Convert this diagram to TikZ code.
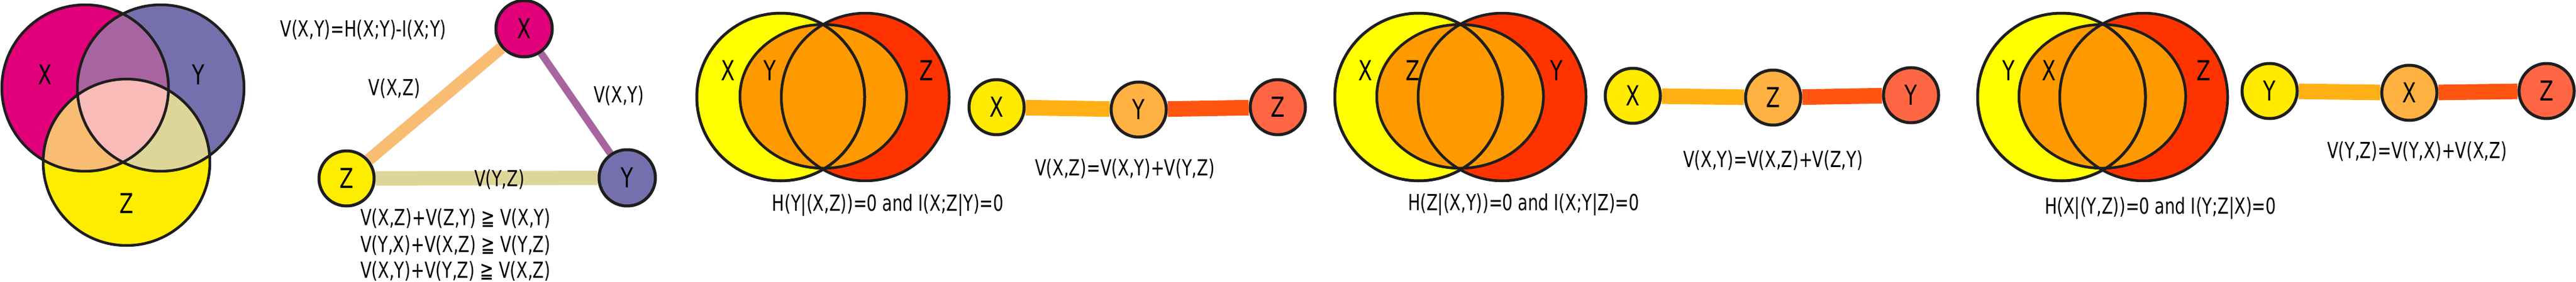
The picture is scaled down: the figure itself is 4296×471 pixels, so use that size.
\documentclass[tikz,border=0pt]{standalone}
\usepackage{fontspec}
\setmainfont[FakeStretch=0.82]{DejaVu Sans Condensed}
\usetikzlibrary{backgrounds}
\definecolor{cX}{HTML}{E2007A}\definecolor{cY}{HTML}{7570AD}\definecolor{cZ}{HTML}{FFED00}
\definecolor{cXY}{HTML}{A864A0}\definecolor{cXZ}{HTML}{F9BC73}\definecolor{cYZ}{HTML}{DED699}
\definecolor{cXYZ}{HTML}{F9BBB7}\definecolor{ln}{HTML}{1E1E1E}
\definecolor{vy}{HTML}{FFFF00}\definecolor{vr}{HTML}{FF3300}\definecolor{vo}{HTML}{FF9900}
\definecolor{ny}{HTML}{FFEA00}\definecolor{no}{HTML}{FFB142}\definecolor{nr}{HTML}{FF6644}
\definecolor{eo}{HTML}{FFB014}\definecolor{er}{HTML}{FF5511}
\tikzset{
 vnode/.style={circle,draw=ln,line width=5pt,minimum size=92pt,inner sep=0pt,font=\fontsize{46}{46}\selectfont},
 vlab/.style={inner sep=0pt,font=\fontsize{46}{46}\selectfont},
 txt/.style={inner sep=0pt,font=\fontsize{37}{44}\selectfont},
 outl/.style={draw=ln,line width=4.5pt}
}
\newcommand{\chainpanel}[9]{%
 % #1 left cx, #2 inner cx, #3 right cx, #4 label left, #5 label inner, #6 label right, #7 lx1,#8 lx2,#9 lx3
 \fill[vy] (#1,-162) circle (140);
 \fill[vr] (#3,-162) circle (140);
 \fill[vo] (#2,-161) ellipse (139 and 120);
 \begin{scope}\clip (#1,-162) circle (140); \fill[vo] (#3,-162) circle (140);\end{scope}
 \draw[outl] (#1,-162) circle (140);
 \draw[outl] (#3,-162) circle (140);
 \draw[outl] (#2,-161) ellipse (139 and 120);
 \draw[outl] (#1,-162) circle (140);
 \node[vlab] at (#7,-118) {#4};
 \node[vlab] at (#8,-118) {#5};
 \node[vlab] at (#9,-118) {#6};
}
\begin{document}
\begin{tikzpicture}[x=1pt,y=1pt]
\useasboundingbox (0,0) rectangle (4296,-471);
% ---- panel 1 Venn
\fill[cX] (142,-147) circle (139);
\fill[cY] (268,-147) circle (139);
\fill[cZ] (211,-271) circle (139);
\begin{scope}\clip (142,-147) circle (139); \fill[cXY] (268,-147) circle (139); \fill[cXZ] (211,-271) circle (139);\end{scope}
\begin{scope}\clip (268,-147) circle (139); \fill[cYZ] (211,-271) circle (139);\end{scope}
\begin{scope}\clip (142,-147) circle (139); \clip (268,-147) circle (139); \fill[cXYZ] (211,-271) circle (139);\end{scope}
\draw[outl] (142,-147) circle (139) (268,-147) circle (139) (211,-271) circle (139);
\node[vlab] (lX) at (75,-125) {X};
\node[vlab] (lY) at (331,-125) {Y};
\node[vlab] (lZ) at (211,-340) {Z};
% ---- triangle
\node[txt] (def) at (606,-50) {V(X,Y)=H(X;Y)-I(X;Y)};
\node[vnode,fill=cX,minimum size=94pt] (tX) at (874,-48) {X};
\node[vnode,fill=cZ] (tZ) at (578,-298) {Z};
\node[vnode,fill=cY,minimum size=94pt] (tY) at (1046,-297) {Y};
\begin{scope}[on background layer]
\draw[cXZ,line width=20pt] (tX) -- (tZ);
\draw[cXY,line width=12pt] (tX) -- (tY);
\draw[cYZ,line width=24pt] (tZ) -- (tY);
\end{scope}
\node[txt] (lXZ) at (658,-148) {V(X,Z)};
\node[txt] (lXY) at (1032,-160) {V(X,Y)};
\node[txt] (lYZ) at (833,-300) {V(Y,Z)};
\node[txt,anchor=west] (i1) at (601,-365) {V(X,Z)+V(Z,Y) ≧ V(X,Y)};
\node[txt,anchor=west] (i2) at (601,-410) {V(Y,X)+V(X,Z) ≧ V(Y,Z)};
\node[txt,anchor=west] (i3) at (601,-453) {V(X,Y)+V(Y,Z) ≧ V(X,Z)};
% ---- panel 2
\chainpanel{1302}{1373}{1443}{X}{Y}{Z}{1214}{1284}{1545}
\node[vnode,fill=ny] (aX) at (1662,-179) {X};
\node[vnode,fill=no] (aY) at (1899,-183) {Y};
\node[vnode,fill=nr] (aZ) at (2131,-179) {Z};
\begin{scope}[on background layer]
\draw[eo,line width=26pt] (aX) -- (aY);
\draw[er,line width=26pt] (aY) -- (aZ);
\end{scope}
\node[txt] (ta) at (1876,-282) {V(X,Z)=V(X,Y)+V(Y,Z)};
\node[txt] (ba) at (1481,-343) {H(Y|(X,Z))=0 and I(X;Z|Y)=0};
% ---- panel 3
\chainpanel{2366}{2435}{2505}{X}{Z}{Y}{2277}{2356}{2596}
\node[vnode,fill=ny] (bX) at (2723,-160) {X};
\node[vnode,fill=no] (bZ) at (2957,-163) {Z};
\node[vnode,fill=nr] (bY) at (3187,-159) {Y};
\begin{scope}[on background layer]
\draw[eo,line width=26pt] (bX) -- (bZ);
\draw[er,line width=26pt] (bZ) -- (bY);
\end{scope}
\node[txt] (tb) at (2957,-268) {V(X,Y)=V(X,Z)+V(Z,Y)};
\node[txt] (bb) at (2541,-342) {H(Z|(X,Y))=0 and I(X;Y|Z)=0};
% ---- panel 4
\chainpanel{3438}{3506}{3575}{Y}{X}{Z}{3350}{3417}{3675}
\node[vnode,fill=ny] (cY) at (3785,-152) {Y};
\node[vnode,fill=no] (cX) at (4018,-155) {X};
\node[vnode,fill=nr] (cZ) at (4247,-152) {Z};
\begin{scope}[on background layer]
\draw[eo,line width=26pt] (cY) -- (cX);
\draw[er,line width=26pt] (cX) -- (cZ);
\end{scope}
\node[txt] (tc) at (4031,-253) {V(Y,Z)=V(Y,X)+V(X,Z)};
\node[txt] (bc) at (3603,-348) {H(X|(Y,Z))=0 and I(Y;Z|X)=0};
\end{tikzpicture}
\end{document}
